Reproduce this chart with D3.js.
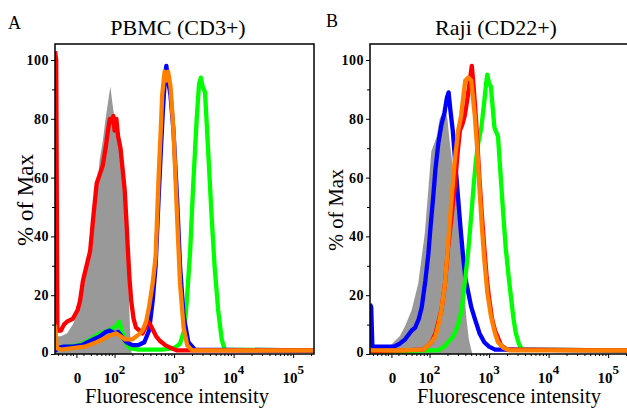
<!DOCTYPE html>
<html>
<head>
<meta charset="utf-8">
<script src="https://cdn.jsdelivr.net/npm/d3@7/dist/d3.min.js"></script>
<style>
  body { margin: 0; background: #fff; }
  svg text { font-family: "Liberation Serif", "Times New Roman", serif; }
</style>
</head>
<body>
<div class="central"></div>
<script>
// x values are in decade units of the display axis (3 = 10^3), y values are % of Max
var xTicks = [1.36, 2, 3, 4, 5];
var xTickLabels = ["0", "2", "3", "4", "5"];   // "0", then exponents of 10
var yTicks = [0, 20, 40, 60, 80, 100];

// PBMC (CD3+)
var pbmcGray = [[1.0,0],[1.02,6],[1.1,6],[1.2,7],[1.3,10],[1.38,14],[1.42,16],[1.5,25],[1.59,36],[1.65,44],[1.7,55],[1.75,66],[1.8,72],[1.85,80],[1.9,87],[1.93,91],[1.96,86],[2.0,80],[2.05,77],[2.1,72],[2.15,65],[2.2,45],[2.24,20],[2.27,3],[2.29,0]];
var pbmcRed = [[1.0,103],[1.02,100],[1.04,8],[1.1,8],[1.15,10],[1.2,11],[1.3,12],[1.38,15],[1.42,18],[1.47,25],[1.53,30],[1.59,35],[1.64,46],[1.7,58],[1.75,61],[1.8,64],[1.85,70],[1.89,76],[1.92,80],[1.95,79],[1.98,81],[2.0,76],[2.03,80],[2.06,74],[2.1,70],[2.14,62],[2.17,56],[2.2,45],[2.22,37],[2.25,26],[2.28,18],[2.32,12],[2.36,9],[2.42,8],[2.47,7],[2.52,9],[2.56,11],[2.6,10],[2.65,8],[2.7,6],[2.76,4.5],[2.85,3],[2.95,2],[3.05,1.2],[5.4,1.2]];
var pbmcGreen = [[1.0,1],[1.05,2],[1.2,2.5],[1.4,3],[1.6,5],[1.75,7],[1.9,8],[2.0,9],[2.05,10],[2.08,11],[2.12,8],[2.18,4],[2.25,2],[2.4,1.5],[2.6,1.5],[2.8,1.5],[3.0,2],[3.1,3.5],[3.17,8],[3.21,17],[3.27,35],[3.32,57],[3.38,80],[3.42,92],[3.45,94],[3.48,91],[3.52,89],[3.57,70],[3.63,47],[3.68,30],[3.74,15],[3.8,5],[3.85,1.5],[5.4,1.2]];
var pbmcBlue = [[1.0,1],[1.05,2],[1.15,2.5],[1.3,2.5],[1.45,3],[1.6,4.5],[1.75,6],[1.85,7.5],[1.92,8],[2.0,7],[2.06,7.5],[2.12,6],[2.2,4],[2.3,3],[2.4,3],[2.5,4],[2.58,8],[2.64,18],[2.69,30],[2.74,53],[2.78,70],[2.81,82],[2.85,95],[2.87,98],[2.9,93],[2.94,88],[2.99,76],[3.05,53],[3.1,30],[3.16,13],[3.24,4],[3.35,1.5],[5.4,1.2]];
var pbmcOrange = [[1.0,10],[1.03,2],[1.1,1.5],[1.3,2],[1.5,2.5],[1.7,4],[1.85,5.5],[1.95,6.5],[2.03,7],[2.1,6],[2.18,5],[2.3,5],[2.4,6.5],[2.47,8],[2.53,11],[2.58,16],[2.64,24],[2.69,33],[2.74,60],[2.78,78],[2.8,88],[2.84,96],[2.87,93],[2.9,96],[2.94,91],[2.99,76],[3.05,47],[3.1,24],[3.16,9],[3.22,3],[3.3,1.3],[5.4,1.2]];

// Raji (CD22+)
var rajiGray = [[1.0,1],[1.05,2],[1.2,2.5],[1.35,3],[1.42,4.5],[1.5,6],[1.59,9.5],[1.7,15],[1.81,24],[1.92,41],[1.98,56],[2.03,69],[2.12,74],[2.17,80],[2.22,82],[2.26,84],[2.3,80],[2.34,72],[2.4,62],[2.45,55],[2.53,36],[2.58,22],[2.62,12],[2.66,5],[2.7,1.5],[2.72,0]];
var rajiBlue = [[1.0,17],[1.02,16],[1.04,2.5],[1.2,2.5],[1.4,2.5],[1.5,3.5],[1.59,5],[1.7,8],[1.76,9],[1.82,12],[1.87,16],[1.93,25],[1.98,34],[2.02,44],[2.06,53],[2.1,63],[2.15,72],[2.2,78],[2.25,82],[2.29,87],[2.32,89],[2.35,83],[2.39,76],[2.44,63],[2.48,53],[2.52,43],[2.56,34],[2.6,26],[2.65,21],[2.7,16],[2.76,12],[2.84,7],[2.92,4],[3.0,2.5],[3.1,1.5],[5.4,1.2]];
var rajiGreen = [[1.0,1],[1.5,1],[2.15,1.3],[2.25,2.5],[2.31,4],[2.4,6],[2.48,10],[2.54,15],[2.59,24],[2.65,35],[2.7,47],[2.74,57],[2.78,66],[2.82,72],[2.87,77],[2.92,86],[2.95,92],[2.97,95],[3.0,92],[3.03,91],[3.06,84],[3.09,77],[3.15,74],[3.2,59],[3.24,47],[3.28,36],[3.33,26],[3.37,19],[3.41,12],[3.45,7],[3.5,3.5],[3.55,1.5],[5.4,1.2]];
var rajiRed = [[1.0,1],[1.5,1.2],[1.9,1.5],[2.03,4],[2.1,7],[2.2,15],[2.26,24],[2.31,36],[2.36,45],[2.42,56],[2.47,68],[2.51,76],[2.55,78],[2.59,81],[2.63,86],[2.67,92],[2.71,98],[2.74,91],[2.78,80],[2.84,59],[2.88,47],[2.92,36],[2.96,26],[3.0,19],[3.05,12],[3.1,8],[3.2,3],[3.3,1.5],[5.4,1.2]];
var rajiOrange = [[1.0,1.2],[1.5,1.2],[1.9,1.5],[2.03,4],[2.1,6],[2.15,10],[2.2,15],[2.26,24],[2.31,37],[2.37,53],[2.42,65],[2.48,76],[2.53,81],[2.57,88],[2.6,93],[2.65,94],[2.7,93],[2.73,87],[2.76,81],[2.8,70],[2.84,56],[2.88,43],[2.92,32],[2.97,21],[3.03,13],[3.1,7],[3.15,4],[3.25,2],[3.35,1.2],[5.4,1.2]];

var width = 627,
	height = 408;

var svg = d3.select(".central")
			.append("svg")
			.attr("width", width)
			.attr("height", height);

// minor ticks on the log part of the x axis
var minorX = [];
for (var k = 1; k <= 5; k++) {
	for (var m = 2; m <= 9; m++) {
		var v = Math.log10(m * Math.pow(10, k));
		if (v > 1.28 && v < 5.35) minorX.push(v);
	}
}
minorX = minorX.concat([1.05, 1.12, 1.19, 1.26]);

function drawPanel(opt) {
	var x = d3.scaleLinear().domain([1.0, 5.35]).range([opt.left, opt.right]);
	var y = d3.scaleLinear().domain([0, 100]).range([354, 60]);

	var g = svg.append("g");

	g.append("clipPath")
		.attr("id", opt.id)
		.append("rect")
		.attr("x", opt.left).attr("y", 44)
		.attr("width", opt.right - opt.left).attr("height", 354 - 44);

	var plot = g.append("g").attr("clip-path", "url(#" + opt.id + ")");

	var area = d3.area()
		.x(function(d){ return x(d[0]); })
		.y0(y(0))
		.y1(function(d){ return y(d[1]); });
	var line = d3.line()
		.x(function(d){ return x(d[0]); })
		.y(function(d){ return y(d[1]); });

	plot.append("path")
		.attr("d", area(opt.gray))
		.style("fill", "#999999");

	opt.lines.forEach(function(s){
		plot.append("path")
			.attr("d", line(s.data))
			.style("fill", "none")
			.style("stroke", s.color)
			.style("stroke-width", 4.3)
			.style("stroke-linejoin", "round");
	});

	// frame
	g.append("rect")
		.attr("x", opt.left).attr("y", 44)
		.attr("width", opt.right - opt.left).attr("height", 354 - 44)
		.style("fill", "none")
		.style("stroke", "#000")
		.style("stroke-width", 1.5);

	// y axis
	var yAxis = g.append("g")
		.attr("transform", "translate(" + opt.left + ",0)")
		.call(d3.axisLeft(y).tickValues(yTicks).tickSize(4).tickPadding(2));
	yAxis.select(".domain").remove();
	yAxis.selectAll("text")
		.style("font-size", "14px")
		.style("font-weight", "bold")
		.style("letter-spacing", "0.5px")
		.attr("dy", function(d){ return d === 0 ? "0.15em" : "0.32em"; });
	g.append("g")
		.attr("transform", "translate(" + opt.left + ",0)")
		.call(d3.axisLeft(y).tickValues([10, 30, 50, 70, 90]).tickSize(3).tickFormat(""))
		.select(".domain").remove();

	// x axis ticks
	var xAxis = g.append("g")
		.attr("transform", "translate(0,354)")
		.call(d3.axisBottom(x).tickValues(xTicks).tickSize(4).tickFormat(""));
	xAxis.select(".domain").remove();
	g.append("g")
		.attr("transform", "translate(0,354)")
		.call(d3.axisBottom(x).tickValues(minorX).tickSize(2).tickFormat(""))
		.select(".domain").remove();

	// x tick labels: "0", then 10 with a superscript exponent
	xTicks.forEach(function(d, i){
		var t = g.append("text")
			.attr("x", x(d))
			.attr("y", 383)
			.attr("fill", "#000")
			.attr("text-anchor", "middle")
			.style("font-size", "15px")
			.style("font-weight", "bold");
		if (i === 0) {
			t.attr("dx", 1).text(xTickLabels[0]);
		} else {
			t.append("tspan").text("10");
			t.append("tspan").attr("dy", -9).style("font-size", "13px").text(xTickLabels[i]);
		}
	});

	// texts
	g.append("text")
		.attr("x", opt.titleX).attr("y", 35)
		.attr("text-anchor", "middle")
		.style("font-size", "22px")
		.text(opt.title);
	g.append("text")
		.attr("x", opt.letterX).attr("y", opt.letterY)
		.style("font-size", "18px")
		.text(opt.letter);
	g.append("text")
		.attr("x", opt.xLabelX).attr("y", 403)
		.attr("text-anchor", "middle")
		.style("font-size", "20.5px")
		.text("Fluorescence intensity");
	g.append("text")
		.attr("transform", "translate(" + opt.yLabelX + "," + opt.yLabelY + ") rotate(-90)")
		.attr("text-anchor", "middle")
		.style("font-size", opt.yLabelSize)
		.text("% of Max");
}

drawPanel({
	id: "clipA", left: 55, right: 314,
	title: "PBMC (CD3+)", titleX: 178,
	letter: "A", letterX: 8, letterY: 29,
	xLabelX: 177, yLabelX: 33, yLabelY: 200, yLabelSize: "23px",
	gray: pbmcGray,
	lines: [
		{data: pbmcGreen, color: "#00ff00"},
		{data: pbmcBlue, color: "#0000ff"},
		{data: pbmcRed, color: "#ff0000"},
		{data: pbmcOrange, color: "#ff8000"}
	]
});

drawPanel({
	id: "clipB", left: 370, right: 629,
	title: "Raji (CD22+)", titleX: 496,
	letter: "B", letterX: 326, letterY: 27,
	xLabelX: 509, yLabelX: 343, yLabelY: 210, yLabelSize: "20.5px",
	gray: rajiGray,
	lines: [
		{data: rajiBlue, color: "#0000ff"},
		{data: rajiGreen, color: "#00ff00"},
		{data: rajiRed, color: "#ff0000"},
		{data: rajiOrange, color: "#ff8000"}
	]
});
</script>
</body>
</html>
